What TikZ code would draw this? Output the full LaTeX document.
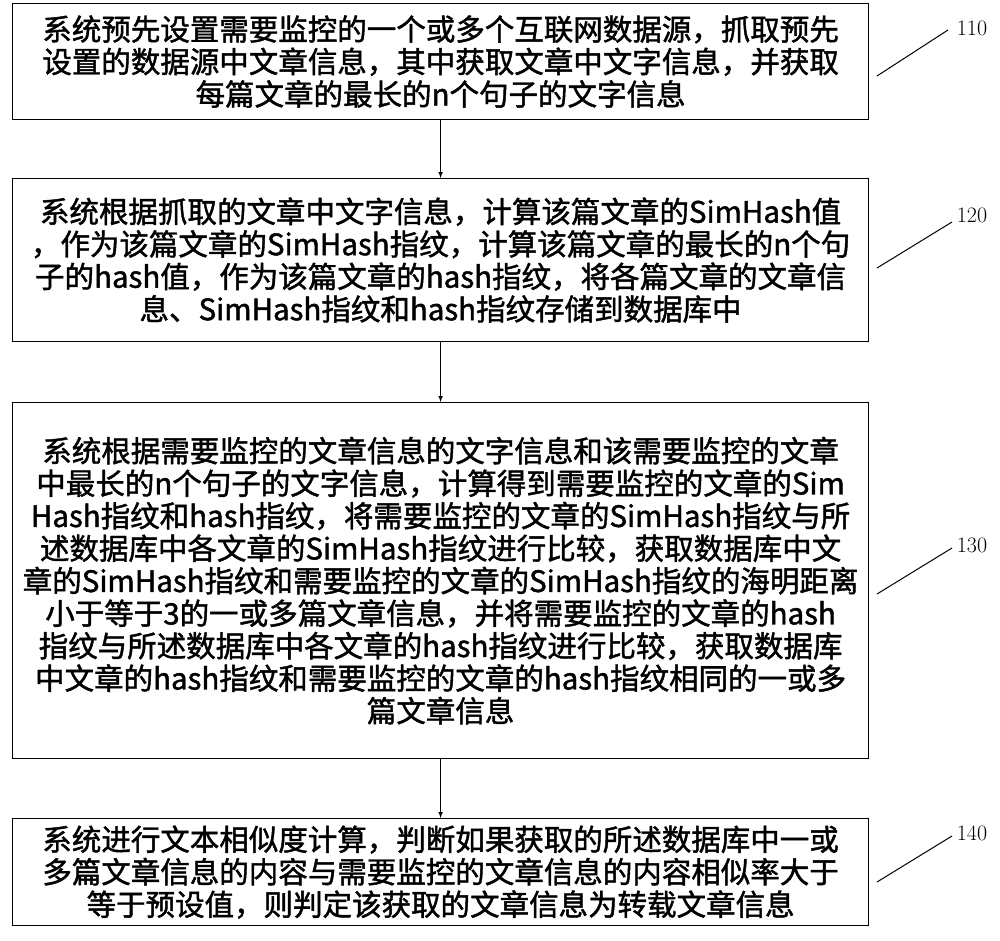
\documentclass[tikz,border=0pt]{standalone}
\usepackage{fontspec}
\newfontfamily\cjk[FakeBold=1.5]{Noto Sans CJK SC}
\begin{document}
\begin{tikzpicture}[x=1pt,y=-1pt,
  box/.style={draw,line width=1.2pt,minimum width=856pt,text width=850pt,inner sep=0pt,font=\cjk\fontsize{29.5}{32.5}\selectfont,align=center,anchor=north west},
  lab/.style={font=\fontsize{22}{26}\selectfont},
  arr/.style={-latex,line width=1pt}]
\useasboundingbox (0,0) rectangle (1000,941);
\node[box,minimum height=116pt] (b1) at (12,3) {系统预先设置需要监控的一个或多个互联网数据源，抓取预先\\设置的数据源中文章信息，其中获取文章中文字信息，并获取\\每篇文章的最长的n个句子的文字信息};
\node[box,minimum height=163pt] (b2) at (12,178) {系统根据抓取的文章中文字信息，计算该篇文章的SimHash值\\，作为该篇文章的SimHash指纹，计算该篇文章的最长的n个句\\子的hash值，作为该篇文章的hash指纹，将各篇文章的文章信\\息、SimHash指纹和hash指纹存储到数据库中};
\node[box,minimum height=356pt] (b3) at (12,402) {系统根据需要监控的文章信息的文字信息和该需要监控的文章\\中最长的n个句子的文字信息，计算得到需要监控的文章的Sim\\Hash指纹和hash指纹，将需要监控的文章的SimHash指纹与所\\述数据库中各文章的SimHash指纹进行比较，获取数据库中文\\章的SimHash指纹和需要监控的文章的SimHash指纹的海明距离\\小于等于3的一或多篇文章信息，并将需要监控的文章的hash\\指纹与所述数据库中各文章的hash指纹进行比较，获取数据库\\中文章的hash指纹和需要监控的文章的hash指纹相同的一或多\\篇文章信息};
\node[box,minimum height=107pt] (b4) at (12,818) {系统进行文本相似度计算，判断如果获取的所述数据库中一或\\多篇文章信息的内容与需要监控的文章信息的内容相似率大于\\等于预设值，则判定该获取的文章信息为转载文章信息};
\draw[arr] (b1.south) -- (b2.north);
\draw[arr] (b2.south) -- (b3.north);
\draw[arr] (b3.south) -- (b4.north);
\node[lab] (l1) at (972,28) {110};
\node[lab] (l2) at (972,215) {120};
\node[lab] (l3) at (972,545) {130};
\node[lab] (l4) at (972,833) {140};
\draw[line width=1pt] (877,76) -- (948,30);
\draw[line width=1pt] (877,268) -- (952,222);
\draw[line width=1pt] (877,594) -- (952,548);
\draw[line width=1pt] (877,882) -- (952,836);
\end{tikzpicture}
\end{document}
